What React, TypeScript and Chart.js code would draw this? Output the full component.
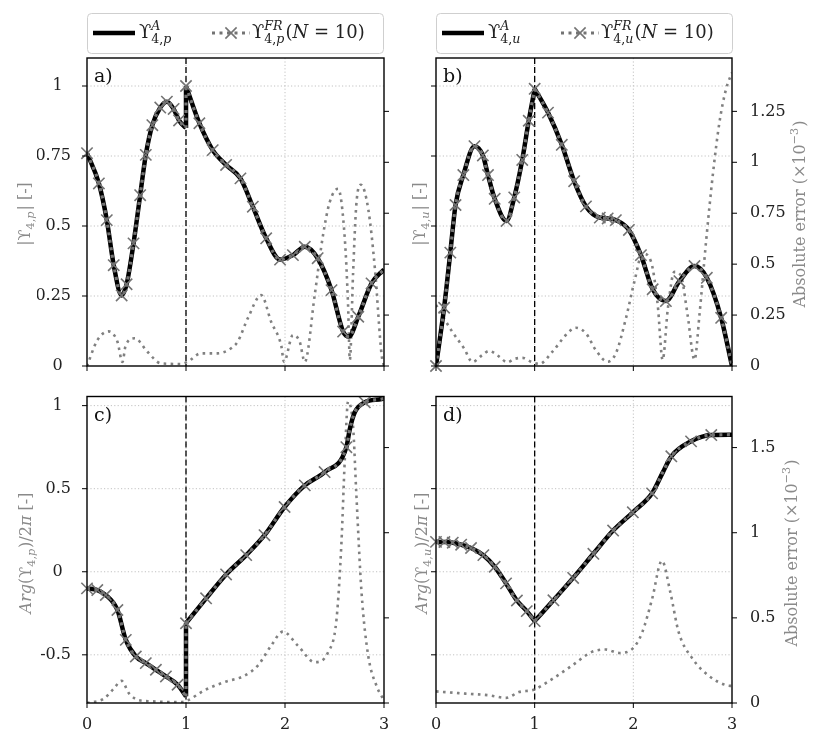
import React, { useEffect, useRef } from 'react';
import { Chart, registerables } from 'chart.js';

Chart.register(...registerables);

const FONT = '"DejaVu Serif", "Liberation Serif", serif';
const UPS = '\u03D2';

// ---- tick values / labels ----
const X_TICKS = [0, 1, 2, 3];
const X_LABELS = ['0', '1', '2', '3'];
const MAG_TICKS = [0, 0.25, 0.5, 0.75, 1];
const MAG_LABELS = ['0', '0.25', '0.5', '0.75', '1'];
const MAG_ERR_TICKS = [0, 0.25, 0.5, 0.75, 1, 1.25];
const MAG_ERR_LABELS = ['0', '0.25', '0.5', '0.75', '1', '1.25'];
const ARG_TICKS = [-0.5, 0, 0.5, 1];
const ARG_LABELS = ['-0.5', '0', '0.5', '1'];
const ARG_ERR_TICKS = [0, 0.5, 1, 1.5];
const ARG_ERR_LABELS = ['0', '0.5', '1', '1.5'];

// ---- panel a : |Y4,p| ----
const A_X = [0, 0.12, 0.2, 0.27, 0.35, 0.4, 0.47, 0.537, 0.594, 0.66, 0.74, 0.807, 0.875, 0.93, 1, 1, 1, 1, 1, 1, 1.135, 1.27, 1.405, 1.55, 1.675, 1.81, 1.95, 2.08, 2.2, 2.33, 2.47, 2.587, 2.645, 2.74, 2.874, 3.0];
const A_Y = [0.76, 0.652, 0.521, 0.36, 0.252, 0.292, 0.438, 0.61, 0.754, 0.86, 0.923, 0.944, 0.918, 0.877, 0.85, null, 0.85, 1.0, null, 1.0, 0.867, 0.771, 0.718, 0.67, 0.569, 0.456, 0.38, 0.396, 0.426, 0.385, 0.271, 0.123, 0.105, 0.176, 0.295, 0.345];
const A_MARKS = [0, 1, 2, 3, 4, 5, 6, 7, 8, 9, 10, 11, 12, 13, 19, 20, 21, 22, 23, 24, 25, 26, 27, 28, 29, 30, 31, 33, 34];
const A_ERR_X = [0, 0.105, 0.22, 0.307, 0.358, 0.39, 0.483, 0.61, 0.746, 0.95, 1.015, 1.15, 1.32, 1.456, 1.523, 1.624, 1.76, 1.86, 1.962, 1.99, 2.08, 2.148, 2.2, 2.3, 2.384, 2.452, 2.536, 2.604, 2.637, 2.655, 2.688, 2.72, 2.766, 2.84, 2.908, 2.976, 3.0];
const A_ERR_Y = [0.0, 0.127, 0.17, 0.12, 0.02, 0.1, 0.136, 0.07, 0.013, 0.01, 0.02, 0.062, 0.062, 0.087, 0.12, 0.234, 0.348, 0.217, 0.1, 0.02, 0.152, 0.12, 0.02, 0.348, 0.642, 0.805, 0.87, 0.626, 0.3, 0.03, 0.46, 0.79, 0.89, 0.773, 0.479, 0.054, 0.0];

// ---- panel b : |Y4,u| ----
const B_X = [0, 0.082, 0.145, 0.198, 0.277, 0.39, 0.475, 0.527, 0.595, 0.715, 0.793, 0.874, 0.94, 1, 1, 1, 1.135, 1.275, 1.4, 1.52, 1.66, 1.74, 1.823, 1.955, 2.077, 2.196, 2.33, 2.467, 2.62, 2.745, 2.89, 3.0];
const B_Y = [0, 0.208, 0.405, 0.575, 0.682, 0.785, 0.752, 0.682, 0.597, 0.518, 0.602, 0.736, 0.876, 0.99, null, 0.99, 0.905, 0.79, 0.66, 0.57, 0.53, 0.527, 0.521, 0.486, 0.396, 0.274, 0.232, 0.303, 0.357, 0.315, 0.172, 0];
const B_MARKS = [0, 1, 2, 3, 4, 5, 6, 7, 8, 9, 10, 11, 12, 13, 16, 17, 18, 19, 20, 21, 22, 23, 24, 25, 26, 27, 28, 29, 30];
const B_ERR_X = [0, 0.165, 0.284, 0.369, 0.47, 0.538, 0.64, 0.724, 0.79, 0.876, 0.97, 1.046, 1.18, 1.316, 1.417, 1.52, 1.62, 1.74, 1.823, 1.925, 2.01, 2.094, 2.18, 2.247, 2.297, 2.35, 2.416, 2.48, 2.55, 2.62, 2.67, 2.737, 2.805, 2.873, 2.94, 3.0];
const B_ERR_Y = [0.3, 0.168, 0.087, 0.02, 0.054, 0.074, 0.046, 0.018, 0.034, 0.04, 0.02, 0.01, 0.07, 0.152, 0.188, 0.16, 0.078, 0.021, 0.062, 0.234, 0.413, 0.552, 0.511, 0.3, 0.03, 0.283, 0.462, 0.446, 0.25, 0.03, 0.25, 0.61, 0.936, 1.197, 1.36, 1.44];

// ---- panel c : Arg(Y4,p)/2pi ----
const C_X = [0, 0.104, 0.19, 0.307, 0.392, 0.493, 0.594, 0.696, 0.797, 0.915, 1, 1, 1, 1, 1, 1, 1.203, 1.405, 1.608, 1.793, 1.996, 2.2, 2.4, 2.62, 2.655, 2.705, 2.806, 2.976, 3.0];
const C_Y = [-0.1, -0.11, -0.14, -0.23, -0.41, -0.51, -0.55, -0.59, -0.63, -0.68, -0.75, null, -0.75, -0.31, null, -0.31, -0.16, -0.016, 0.1, 0.22, 0.39, 0.52, 0.6, 0.75, 0.86, 0.96, 1.02, 1.04, 1.045];
const C_MARKS = [0, 1, 2, 3, 4, 5, 6, 7, 8, 9, 15, 16, 17, 18, 19, 20, 21, 22, 23, 26];
const C_ERR_X = [0, 0.17, 0.27, 0.348, 0.426, 0.527, 0.64, 0.95, 1.016, 1.185, 1.39, 1.59, 1.726, 1.86, 1.979, 2.13, 2.3, 2.435, 2.52, 2.57, 2.604, 2.637, 2.688, 2.72, 2.773, 2.84, 2.925, 2.99];
const C_ERR_Y = [0.0, 0.025, 0.084, 0.13, 0.055, 0.016, 0.01, 0.005, 0.015, 0.074, 0.123, 0.16, 0.22, 0.337, 0.419, 0.337, 0.24, 0.298, 0.49, 0.94, 1.43, 1.77, 1.62, 1.234, 0.65, 0.28, 0.1, 0.025];

// ---- panel d : Arg(Y4,u)/2pi ----
const D_X = [0, 0.085, 0.17, 0.255, 0.355, 0.48, 0.595, 0.71, 0.82, 0.92, 1, 1, 1, 1.19, 1.39, 1.595, 1.795, 1.995, 2.19, 2.3, 2.385, 2.585, 2.79, 3.0];
const D_Y = [0.18, 0.179, 0.175, 0.163, 0.143, 0.1, 0.03, -0.07, -0.173, -0.237, -0.297, null, -0.297, -0.172, -0.037, 0.108, 0.248, 0.358, 0.472, 0.6, 0.695, 0.785, 0.823, 0.825];
const D_MARKS = [0, 1, 2, 3, 4, 5, 6, 7, 8, 9, 10, 13, 14, 15, 16, 17, 18, 20, 21, 22];
const D_ERR_X = [0, 0.3, 0.54, 0.71, 0.84, 0.99, 1.18, 1.38, 1.58, 1.72, 1.855, 1.99, 2.09, 2.19, 2.29, 2.375, 2.46, 2.6, 2.76, 2.95, 3.0];
const D_ERR_Y = [0.068, 0.055, 0.045, 0.03, 0.064, 0.078, 0.142, 0.22, 0.3, 0.314, 0.294, 0.318, 0.415, 0.61, 0.835, 0.65, 0.415, 0.26, 0.162, 0.103, 0.1];

type Part = { t: string; it?: boolean; pos?: 'sup' | 'sub' };

const sub = (v: string): Part[] => [{ t: '4,', pos: 'sub' }, { t: v, it: true, pos: 'sub' }];
const LEG_A = (v: string): Part[] => [{ t: UPS }, { t: 'A', it: true, pos: 'sup' }, ...sub(v)];
const LEG_FR = (v: string): Part[] => [{ t: UPS }, { t: 'FR', it: true, pos: 'sup' }, ...sub(v), { t: '(' }, { t: 'N', it: true }, { t: ' = 10)' }];
const MAG_TITLE = (v: string): Part[] => [{ t: '|' + UPS }, ...sub(v), { t: '| [-]' }];
const ARG_TITLE = (v: string): Part[] => [{ t: 'Arg', it: true }, { t: '(' + UPS }, ...sub(v), { t: ')/2' }, { t: '\u03C0', it: true }, { t: ' [-]' }];
const ERR_TITLE: Part[] = [{ t: 'Absolute error (\u00D710' }, { t: '\u22123', pos: 'sup' }, { t: ')' }];

interface Panel {
  key: string; letter: string;
  X: number[]; Y: (number | null)[]; M: number[]; EX: number[]; EY: number[];
  yMin: number; yMax: number; eMax: number;
  yTicks: number[]; yLabels: string[]; eTicks: number[]; eLabels: string[];
  showY: boolean; showE: boolean; showX: boolean;
  area: { l: number; r: number; t: number; b: number };
  title: Part[]; titleX: number; titleY: number;
  rTitleX?: number; rTitleY?: number;
  legend?: [Part[], Part[]];
}

const PANELS: Panel[] = [
  { key: 'a', letter: 'a)', X: A_X, Y: A_Y, M: A_MARKS, EX: A_ERR_X, EY: A_ERR_Y,
    yMin: 0, yMax: 1.1, eMax: 1.512, yTicks: MAG_TICKS, yLabels: MAG_LABELS, eTicks: MAG_ERR_TICKS, eLabels: MAG_ERR_LABELS,
    showY: true, showE: false, showX: false, area: { l: 87, r: 384, t: 58, b: 366 },
    title: MAG_TITLE('p'), titleX: 30, titleY: 214, legend: [LEG_A('p'), LEG_FR('p')] },
  { key: 'b', letter: 'b)', X: B_X, Y: B_Y, M: B_MARKS, EX: B_ERR_X, EY: B_ERR_Y,
    yMin: 0, yMax: 1.1, eMax: 1.512, yTicks: MAG_TICKS, yLabels: MAG_LABELS, eTicks: MAG_ERR_TICKS, eLabels: MAG_ERR_LABELS,
    showY: false, showE: true, showX: false, area: { l: 436, r: 732, t: 58, b: 366 },
    title: MAG_TITLE('u'), titleX: 425, titleY: 214, rTitleX: 805, rTitleY: 214, legend: [LEG_A('u'), LEG_FR('u')] },
  { key: 'c', letter: 'c)', X: C_X, Y: C_Y, M: C_MARKS, EX: C_ERR_X, EY: C_ERR_Y,
    yMin: -0.79, yMax: 1.055, eMax: 1.8, yTicks: ARG_TICKS, yLabels: ARG_LABELS, eTicks: ARG_ERR_TICKS, eLabels: ARG_ERR_LABELS,
    showY: true, showE: false, showX: true, area: { l: 87, r: 384, t: 396.5, b: 703 },
    title: ARG_TITLE('p'), titleX: 31, titleY: 553 },
  { key: 'd', letter: 'd)', X: D_X, Y: D_Y, M: D_MARKS, EX: D_ERR_X, EY: D_ERR_Y,
    yMin: -0.79, yMax: 1.055, eMax: 1.8, yTicks: ARG_TICKS, yLabels: ARG_LABELS, eTicks: ARG_ERR_TICKS, eLabels: ARG_ERR_LABELS,
    showY: false, showE: true, showX: true, area: { l: 436, r: 732, t: 396.5, b: 703 },
    title: ARG_TITLE('u'), titleX: 427, titleY: 553, rTitleX: 797, rTitleY: 553 },
];

const W = 822, H = 748, AXW_L = 50, AXW_R = 80, AXH = 42;

function drawRich(ctx: CanvasRenderingContext2D, parts: Part[], x: number, y: number, size: number, draw: boolean) {
  let cx = x; let inScript = false; let supX = 0; let subX = 0;
  ctx.textAlign = 'left'; ctx.textBaseline = 'alphabetic';
  for (const p of parts) {
    const fs = p.pos ? size * 0.7 : size;
    ctx.font = `${p.it ? 'italic ' : ''}${fs}px ${FONT}`;
    const w = ctx.measureText(p.t).width;
    if (p.pos) {
      if (!inScript) { inScript = true; supX = cx; subX = cx; }
      if (p.pos === 'sup') { if (draw) ctx.fillText(p.t, supX, y - size * 0.42); supX += w; }
      else { if (draw) ctx.fillText(p.t, subX, y + size * 0.25); subX += w; }
    } else {
      if (inScript) { cx = Math.max(supX, subX) + 1; inScript = false; }
      if (draw) ctx.fillText(p.t, cx, y);
      cx += w;
    }
  }
  if (inScript) cx = Math.max(supX, subX);
  return cx - x;
}

function drawRotated(ctx: CanvasRenderingContext2D, parts: Part[], bx: number, cy: number, size: number, color: string) {
  ctx.save();
  ctx.translate(bx, cy);
  ctx.rotate(-Math.PI / 2);
  ctx.fillStyle = color;
  const w = drawRich(ctx, parts, 0, 0, size, false);
  drawRich(ctx, parts, -w / 2, 0, size, true);
  ctx.restore();
}

function seg(ctx: CanvasRenderingContext2D, x1: number, y1: number, x2: number, y2: number) {
  ctx.beginPath(); ctx.moveTo(x1, y1); ctx.lineTo(x2, y2); ctx.stroke();
}

function drawLegend(ctx: CanvasRenderingContext2D, bx: number, by: number, parts: [Part[], Part[]]) {
  const bw = 296, bh = 40, cy = by + 20;
  ctx.save();
  ctx.beginPath();
  (ctx as any).roundRect(bx + 0.5, by + 0.5, bw, bh, 4);
  ctx.fillStyle = '#ffffff'; ctx.fill();
  ctx.strokeStyle = '#cfcfcf'; ctx.lineWidth = 1; ctx.stroke();
  ctx.strokeStyle = '#000'; ctx.lineWidth = 4.5; ctx.lineCap = 'butt';
  seg(ctx, bx + 6, cy, bx + 48, cy);
  ctx.fillStyle = '#222';
  drawRich(ctx, parts[0], bx + 52, cy + 5, 18, true);
  ctx.strokeStyle = '#737373'; ctx.lineWidth = 3; ctx.setLineDash([3, 4.5]);
  seg(ctx, bx + 125, cy, bx + 163, cy);
  ctx.setLineDash([]); ctx.lineWidth = 1.6;
  const mx = bx + 144, r = 5.6;
  seg(ctx, mx - r, cy - r, mx + r, cy + r); seg(ctx, mx - r, cy + r, mx + r, cy - r);
  ctx.fillStyle = '#222';
  drawRich(ctx, parts[1], bx + 165, cy + 5, 18, true);
  ctx.restore();
}

function makeDeco(p: Panel) {
  return {
    id: 'deco' + p.key,
    beforeDatasetsDraw(chart: any) {
      const { ctx, chartArea: a, scales } = chart;
      const xs = scales.x, ys = scales.y;
      ctx.save();
      ctx.strokeStyle = '#c2c2c2'; ctx.lineWidth = 1; ctx.setLineDash([1.2, 2.2]);
      for (const v of p.yTicks) {
        const py = ys.getPixelForValue(v);
        if (py > a.top + 1 && py < a.bottom - 1) seg(ctx, a.left, py, a.right, py);
      }
      for (const v of X_TICKS) {
        const px = xs.getPixelForValue(v);
        if (px > a.left + 1 && px < a.right - 1) seg(ctx, px, a.top, px, a.bottom);
      }
      ctx.setLineDash([6, 3]); ctx.strokeStyle = '#000'; ctx.lineWidth = 1.3;
      const x1 = xs.getPixelForValue(1);
      seg(ctx, x1, a.top, x1, a.bottom);
      ctx.restore();
    },
    afterDatasetsDraw(chart: any) {
      const { ctx, chartArea: a, scales } = chart;
      ctx.save();
      ctx.strokeStyle = '#000'; ctx.lineWidth = 1.4; ctx.setLineDash([]);
      ctx.strokeRect(a.left, a.top, a.right - a.left, a.bottom - a.top);
      ctx.lineWidth = 1;
      for (const v of X_TICKS) { const px = scales.x.getPixelForValue(v); seg(ctx, px, a.bottom, px, a.bottom + 5); }
      for (const v of p.yTicks) { const py = scales.y.getPixelForValue(v); seg(ctx, a.left - 5, py, a.left, py); }
      for (const v of p.eTicks) { const py = scales.y2.getPixelForValue(v); seg(ctx, a.right, py, a.right + 5, py); }
      ctx.restore();
    },
    afterDraw(chart: any) {
      const { ctx, chartArea: a } = chart;
      ctx.save();
      ctx.fillStyle = '#111'; ctx.font = `19px ${FONT}`; ctx.textAlign = 'left'; ctx.textBaseline = 'alphabetic';
      ctx.fillText(p.letter, a.left + 7, a.top + 24);
      drawRotated(ctx, p.title, p.titleX, p.titleY, 16, '#8a8a8a');
      if (p.rTitleX !== undefined) drawRotated(ctx, ERR_TITLE, p.rTitleX, p.rTitleY as number, 16, '#8a8a8a');
      if (p.legend) drawLegend(ctx, a.left, 13, p.legend);
      ctx.restore();
    },
  };
}

function makeConfig(p: Panel): any {
  const mk = () => p.X.map((x, i) => ({ x, y: p.Y[i] }));
  const err = p.EX.map((x, i) => ({ x, y: p.EY[i] }));
  const marks = new Set(p.M);
  const tickFont = { family: FONT, size: 16 };
  const yScale = (ticks: number[], labels: string[], show: boolean, pos: string, min: number, max: number, pad: number, width: number) => ({
    type: 'linear', position: pos, min, max,
    grid: { display: false }, border: { display: false },
    afterBuildTicks: (s: any) => { s.ticks = ticks.map((v) => ({ value: v })); },
    afterFit: (s: any) => { s.width = width; },
    ticks: {
      autoSkip: false, padding: pad, color: '#222', font: tickFont,
      callback: (v: number) => {
        if (!show) return '';
        const s = labels[ticks.indexOf(v)] ?? '';
        return pos === 'left' && !s.includes('.') ? s + '\u2008\u2009' : s;
      },
    },
  });
  return {
    type: 'line',
    data: {
      datasets: [
        { data: mk(), yAxisID: 'y', borderColor: '#737373', borderWidth: 3.2, borderDash: [3, 4.5],
          cubicInterpolationMode: 'monotone', clip: false,
          pointRadius: (c: any) => (marks.has(c.dataIndex) ? 8 : 0), pointHoverRadius: 0,
          pointStyle: 'crossRot', pointBorderColor: '#737373', pointBackgroundColor: 'rgba(0,0,0,0)', pointBorderWidth: 1.6 },
        { data: mk(), yAxisID: 'y', borderColor: '#000000', borderWidth: 4.5,
          cubicInterpolationMode: 'monotone', pointRadius: 0 },
        { data: err, yAxisID: 'y2', borderColor: '#808080', borderWidth: 2.6, borderDash: [2.6, 4.4],
          cubicInterpolationMode: 'monotone', pointRadius: 0 },
      ],
    },
    options: {
      responsive: false, animation: false, events: [],
      layout: { padding: { left: p.area.l - AXW_L, right: W - p.area.r - AXW_R, top: p.area.t, bottom: H - p.area.b - AXH } },
      plugins: { legend: { display: false }, tooltip: { enabled: false } },
      scales: {
        x: {
          type: 'linear', min: 0, max: 3,
          grid: { display: false }, border: { display: false },
          afterBuildTicks: (s: any) => { s.ticks = X_TICKS.map((v) => ({ value: v })); },
          afterFit: (s: any) => { s.height = AXH; },
          ticks: { autoSkip: false, maxRotation: 0, padding: 4, color: '#222', font: tickFont,
            callback: (v: number) => (p.showX ? X_LABELS[X_TICKS.indexOf(v)] ?? '' : '') },
        },
        y: yScale(p.yTicks, p.yLabels, p.showY, 'left', p.yMin, p.yMax, 8, AXW_L),
        y2: yScale(p.eTicks, p.eLabels, p.showE, 'right', 0, p.eMax, 10, AXW_R),
      },
    },
    plugins: [makeDeco(p)],
  };
}

export default function App() {
  const refs = useRef<(HTMLCanvasElement | null)[]>([]);
  useEffect(() => {
    Chart.defaults.font.family = FONT;
    const charts = PANELS.map((p, i) => new Chart(refs.current[i] as HTMLCanvasElement, makeConfig(p)));
    return () => charts.forEach((c) => c.destroy());
  }, []);
  return (
    <div style={{ position: 'absolute', left: 0, top: 0, width: W, height: H, background: '#fff' }}>
      {PANELS.map((p, i) => (
        <canvas key={p.key} ref={(el) => { refs.current[i] = el; }} width={W} height={H}
          style={{ position: 'absolute', left: 0, top: 0, width: W, height: H }} />
      ))}
    </div>
  );
}
